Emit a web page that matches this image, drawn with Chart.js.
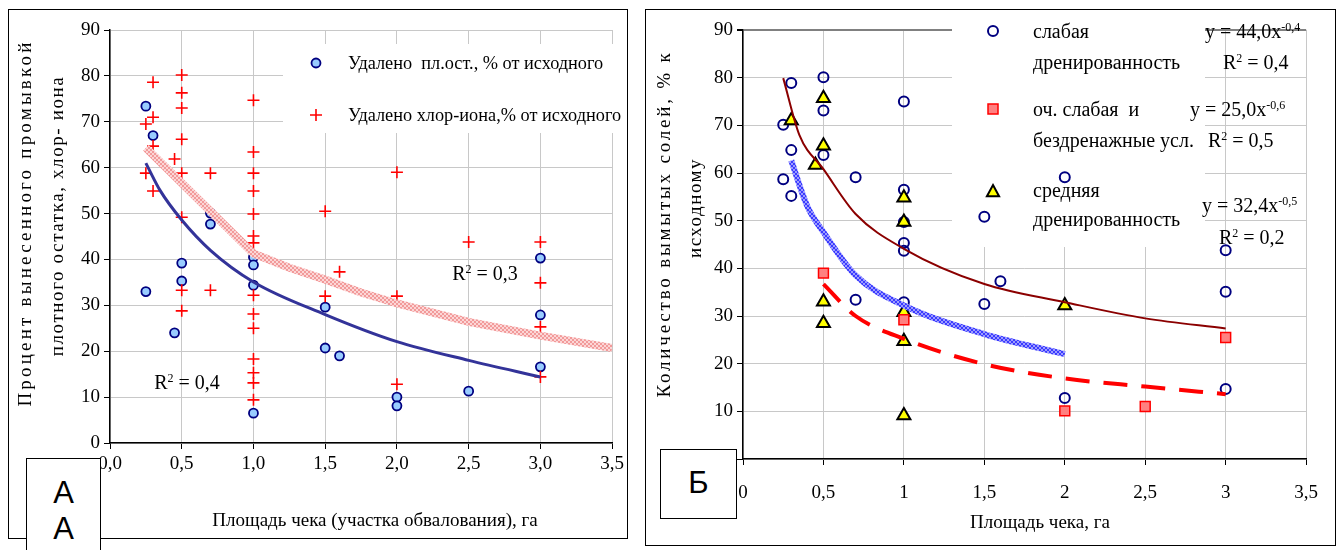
<!DOCTYPE html>
<html>
<head>
<meta charset="utf-8">
<script src="https://cdn.jsdelivr.net/npm/chart.js@4.4.1/dist/chart.umd.min.js"></script>
<style>
body { margin: 0; background: #fff; }
#page { position: relative; width: 1341px; height: 550px; overflow: hidden; font-family: "Liberation Serif", serif; }
.frame { position: absolute; border: 1.5px solid #000; box-sizing: border-box; }
canvas { position: absolute; }
.t { position: absolute; white-space: pre; color: #000; line-height: 1; transform: translateY(-50%); }
.c { transform: translate(-50%, -50%); }
.rot { transform: translate(-50%, -50%) rotate(-90deg); }
.box { position: absolute; background: #fff; border: 1.5px solid #000; box-sizing: border-box;
  font-family: "Liberation Sans", sans-serif; font-size: 31px; text-align: center; }
sup { font-size: 0.6em; vertical-align: 0; position: relative; top: -0.55em; }
</style>
</head>
<body>
<div id="page">
  <div class="frame" style="left:8px;top:9px;width:620px;height:530px"></div>
  <div class="frame" style="left:645px;top:9px;width:691px;height:537px"></div>

  <canvas id="chartA" width="620" height="530" style="left:8px;top:9px"></canvas>
  <canvas id="chartB" width="690" height="536" style="left:645px;top:9px"></canvas>

  <!-- panel A texts -->
  <div class="t rot" style="left:24px;top:223px;font-size:19px;letter-spacing:3.2px">Процент вынесенного промывкой</div>
  <div class="t rot" style="left:56px;top:216px;font-size:19px;letter-spacing:1.6px">плотного остатка, хлор- иона</div>
  <div class="t c" style="left:375px;top:519px;font-size:19px">Площадь чека (участка обвалования), га</div>
  <div class="t" style="left:348px;top:63px;font-size:18.3px">Удалено  пл.ост., % от исходного</div>
  <div class="t" style="left:348px;top:115px;font-size:18.3px">Удалено хлор-иона,% от исходного</div>
  <div class="t c" style="left:187px;top:382px;font-size:20px">R<sup>2</sup> = 0,4</div>
  <div class="t c" style="left:485px;top:273px;font-size:20px">R<sup>2</sup> = 0,3</div>

  <!-- panel B texts -->
  <div class="t rot" style="left:663px;top:224px;font-size:19px;letter-spacing:2.8px">Количество вымытых солей, % к</div>
  <div class="t rot" style="left:694px;top:208px;font-size:19px;letter-spacing:1.5px">исходному</div>
  <div class="t c" style="left:1040px;top:521px;font-size:19px">Площадь чека, га</div>
  <div class="t" style="left:1033px;top:31px;font-size:20px">слабая</div>
  <div class="t" style="left:1033px;top:62px;font-size:20px">дренированность</div>
  <div class="t" style="left:1205px;top:31px;font-size:20px">y = 44,0x<sup>-0,4</sup></div>
  <div class="t" style="left:1223px;top:62px;font-size:20px">R<sup>2</sup> = 0,4</div>
  <div class="t" style="left:1033px;top:109px;font-size:20px">оч. слабая  и</div>
  <div class="t" style="left:1033px;top:140px;font-size:20px">бездренажные усл.</div>
  <div class="t" style="left:1190px;top:109px;font-size:20px">y = 25,0x<sup>-0,6</sup></div>
  <div class="t" style="left:1208px;top:140px;font-size:20px">R<sup>2</sup> = 0,5</div>
  <div class="t" style="left:1033px;top:190px;font-size:20px">средняя</div>
  <div class="t" style="left:1033px;top:219px;font-size:20px">дренированность</div>
  <div class="t" style="left:1202px;top:205px;font-size:20px">y = 32,4x<sup>-0,5</sup></div>
  <div class="t" style="left:1219px;top:237px;font-size:20px">R<sup>2</sup> = 0,2</div>

  <div class="box" style="left:26px;top:458px;width:75px;height:100px;line-height:36px;padding-top:16px">А<br>А</div>
  <div class="box" style="left:660px;top:449px;width:77px;height:70px;line-height:66px">Б</div>
</div>

<script>
// Panel A: plot residue (circles) and chloride (crosses)
const plotX = [0.25, 0.3, 0.25, 0.45, 0.5, 0.5, 0.7, 0.7, 1.0, 1.0, 1.0, 1.0, 1.5, 1.5, 1.6, 2.0, 2.0, 2.5, 3.0, 3.0, 3.0];
const plotY = [73.4, 67, 33, 24, 39.2, 35.3, 50.1, 47.7, 40.5, 38.8, 34.4, 6.5, 29.6, 20.7, 19.0, 10.0, 8.1, 11.3, 40.3, 27.9, 16.6];

const chlorX = [0.3, 0.3, 0.25, 0.3, 0.25, 0.3, 0.45,
	0.5, 0.5, 0.5, 0.5, 0.5, 0.5, 0.5, 0.5,
	0.7, 0.7,
	1, 1, 1, 1, 1, 1, 1, 1, 1, 1, 1, 1, 1, 1,
	1.5, 1.5, 1.6, 2, 2, 2, 2.5, 3, 3, 3, 3];
const chlorY = [78.6, 71.0, 69.5, 64.7, 58.8, 54.9, 61.9,
	80.2, 76.3, 73.0, 66.2, 58.8, 49.2, 33.3, 28.8,
	58.8, 33.3,
	74.7, 63.4, 58.8, 54.9, 49.9, 45.1, 43.6, 32.2, 28.1, 25.0, 18.3, 15.3, 13.1, 9.4,
	50.5, 32.0, 37.3, 59.0, 32.0, 12.8, 43.8, 43.8, 34.9, 25.3, 14.4];

// trend lines
const trendPlotX = [0.25, 0.35, 0.5, 0.7, 1.0, 1.5, 2.0, 2.5, 3.0];
const trendPlotY = [61, 55, 48.6, 42, 35.1, 28, 22.1, 18, 14.4];
const trendChlorX = [0.25, 1.0, 1.25, 1.5, 1.75, 2.0, 2.5, 3.0, 3.5];
const trendChlorY = [64.3, 41.3, 38.2, 35.6, 32.8, 30.4, 26.4, 23.4, 20.7];

// Panel B: drainage groups
const weakX = [0.3, 0.5, 0.5, 0.25, 0.3, 0.5, 0.25, 0.7, 0.3, 1, 1, 1, 1, 1, 1, 0.7, 1.6, 1.5, 2, 2, 3, 3, 3, 1.5];
const weakY = [78.9, 80.1, 73.1, 70.1, 64.8, 63.8, 58.7, 59.1, 55.2, 75.0, 56.5, 49.7, 45.3, 43.7, 32.9, 33.4, 37.3, 32.5, 12.8, 59.1, 43.8, 35.1, 14.7, 50.8];
const veryWeakX = [0.5, 1, 2, 2.5, 3];
const veryWeakY = [39.0, 29.2, 10.1, 11.0, 25.5];
const mediumX = [0.3, 0.5, 0.5, 0.45, 0.5, 0.5, 1, 1, 1, 1, 1, 2];
const mediumY = [71.0, 75.7, 65.7, 61.7, 33.0, 28.5, 54.8, 49.7, 30.8, 24.7, 9.1, 32.2];

const trendWeakX = [0.25, 0.35, 0.5, 0.7, 1.0, 1.5, 2.0, 2.5, 3.0];
const trendWeakY = [79.9, 68, 60.8, 51.4, 44.1, 36.7, 32.9, 29.5, 27.4];
const trendMediumX = [0.3, 0.4, 0.5, 0.7, 1.0, 1.5, 2.0];
const trendMediumY = [62.6, 53, 47.6, 38.5, 32.2, 26.2, 22.0];
const trendVeryWeakX = [0.5, 0.7, 1.0, 1.5, 2.0, 2.5, 3.0];
const trendVeryWeakY = [36.7, 30, 25.2, 19.9, 16.9, 15.2, 13.6];

const yTicksLabels = [0, 10, 20, 30, 40, 50, 60, 70, 80, 90];

function toPoints(xs, ys) {
	return xs.map((x, i) => ({ x: x, y: ys[i] }));
}

// checkered texture like the thick trend lines of the original
function checkPattern(c1, c2) {
	const p = document.createElement("canvas");
	p.width = 4;
	p.height = 4;
	const g = p.getContext("2d");
	g.fillStyle = c1;
	g.fillRect(0, 0, 4, 4);
	g.fillStyle = c2;
	g.fillRect(0, 0, 2, 2);
	g.fillRect(2, 2, 2, 2);
	return g.createPattern(p, "repeat");
}

function drawMark(ctx, m) {
	ctx.save();
	ctx.lineWidth = m.lw;
	ctx.strokeStyle = m.stroke;
	ctx.beginPath();
	if (m.shape === "circle") {
		ctx.arc(m.x, m.y, m.r, 0, Math.PI * 2);
	} else if (m.shape === "cross") {
		ctx.moveTo(m.x - m.r, m.y);
		ctx.lineTo(m.x + m.r, m.y);
		ctx.moveTo(m.x, m.y - m.r);
		ctx.lineTo(m.x, m.y + m.r);
	} else if (m.shape === "rect") {
		ctx.rect(m.x - m.r, m.y - m.r, m.r * 2, m.r * 2);
	} else if (m.shape === "triangle") {
		ctx.moveTo(m.x, m.y - m.r);
		ctx.lineTo(m.x + m.r * 0.87, m.y + m.r * 0.6);
		ctx.lineTo(m.x - m.r * 0.87, m.y + m.r * 0.6);
		ctx.closePath();
	}
	if (m.face) {
		ctx.fillStyle = m.face;
		ctx.fill();
	}
	ctx.stroke();
	ctx.restore();
}

// white legend area under the points, over the grid
function makeLegendPanel(rect, marks) {
	return {
		id: "legendPanel",
		beforeDatasetsDraw(chart) {
			const ctx = chart.ctx;
			ctx.save();
			ctx.fillStyle = "#fff";
			ctx.fillRect(rect[0], rect[1], rect[2], rect[3]);
			ctx.restore();
			marks.forEach((m) => drawMark(ctx, m));
		},
	};
}

const tickFont = { family: "Liberation Serif", size: 19 };

function yScale(width) {
	return {
		type: "linear",
		min: 0,
		max: 90,
		afterBuildTicks: (s) => { s.ticks = yTicksLabels.map((v) => ({ value: v })); },
		ticks: { font: tickFont, color: "#000", padding: 4 },
		grid: { color: "#c8c8c8", tickColor: "#000", tickLength: 6 },
		border: { color: "#000", width: 1.5 },
		afterFit: (s) => { s.width = width; },
	};
}

function initChartA() {
	const ctx = document.getElementById("chartA");
	return new Chart(ctx, {
		type: "scatter",
		data: {
			datasets: [
				{
					data: toPoints(trendPlotX, trendPlotY),
					showLine: true,
					borderColor: "#333399",
					borderWidth: 3,
					pointRadius: 0,
					cubicInterpolationMode: "monotone",
					order: 0,
				},
				{
					data: toPoints(trendChlorX, trendChlorY),
					showLine: true,
					borderColor: checkPattern("#f29a9a", "#fcd6d6"),
					borderWidth: 8,
					pointRadius: 0,
					tension: 0,
					order: 1,
				},
				{
					label: "Удалено пл.ост., % от исходного",
					data: toPoints(plotX, plotY),
					pointStyle: "circle",
					pointRadius: 4.5,
					backgroundColor: "#99ccff",
					borderColor: "#000080",
					borderWidth: 1.8,
					order: 3,
				},
				{
					label: "Удалено хлор-иона,% от исходного",
					data: toPoints(chlorX, chlorY),
					pointStyle: "cross",
					pointRadius: 6,
					borderColor: "#ff0000",
					borderWidth: 1.6,
					order: 2,
				},
			],
		},
		options: {
			responsive: false,
			animation: false,
			devicePixelRatio: 1,
			layout: { padding: { top: 21, right: 15, left: 0, bottom: 0 } },
			plugins: {
				legend: { display: false },
				tooltip: { enabled: false },
			},
			scales: {
				x: {
					type: "linear",
					min: 0,
					max: 3.5,
					ticks: {
						stepSize: 0.5,
						font: tickFont,
						color: "#000",
						padding: 4,
						maxRotation: 0,
						callback: (v) => v.toFixed(1).replace(".", ","),
					},
					grid: { color: "#c8c8c8", tickColor: "#000", tickLength: 6 },
					border: { color: "#000", width: 1.5 },
					afterFit: (s) => { s.height = 96; },
				},
				y: yScale(102),
			},
		},
		plugins: [
			makeLegendPanel([275, 35, 330, 89], [
				{ shape: "circle", x: 308, y: 54, r: 4.5, lw: 1.8, face: "#99ccff", stroke: "#000080" },
				{ shape: "cross", x: 308, y: 106, r: 6, lw: 1.6, stroke: "#ff0000" },
			]),
		],
	});
}

function initChartB() {
	const ctx = document.getElementById("chartB");
	return new Chart(ctx, {
		type: "scatter",
		data: {
			datasets: [
				{
					data: toPoints(trendWeakX, trendWeakY),
					showLine: true,
					borderColor: "#8b0000",
					borderWidth: 2,
					pointRadius: 0,
					cubicInterpolationMode: "monotone",
					order: 0,
				},
				{
					data: toPoints(trendMediumX, trendMediumY),
					showLine: true,
					borderColor: checkPattern("#3b3bff", "#9c9cff"),
					borderWidth: 6,
					pointRadius: 0,
					cubicInterpolationMode: "monotone",
					order: 1,
				},
				{
					data: toPoints(trendVeryWeakX, trendVeryWeakY),
					showLine: true,
					borderColor: "#ff0000",
					borderWidth: 4,
					borderDash: [24, 14],
					pointRadius: 0,
					cubicInterpolationMode: "monotone",
					order: 1,
				},
				{
					label: "слабая дренированность",
					data: toPoints(weakX, weakY),
					pointStyle: "circle",
					pointRadius: 5,
					backgroundColor: "rgba(0,0,0,0)",
					borderColor: "#000080",
					borderWidth: 2,
					order: 4,
				},
				{
					label: "оч. слабая и бездренажные усл.",
					data: toPoints(veryWeakX, veryWeakY),
					pointStyle: "rect",
					pointRadius: 7,
					backgroundColor: "#ff8080",
					borderColor: "#ff0000",
					borderWidth: 1.5,
					order: 2,
				},
				{
					label: "средняя дренированность",
					data: toPoints(mediumX, mediumY),
					pointStyle: "triangle",
					pointRadius: 7.5,
					backgroundColor: "#ffff00",
					borderColor: "#000",
					borderWidth: 2,
					order: 3,
				},
			],
		},
		options: {
			responsive: false,
			animation: false,
			devicePixelRatio: 1,
			layout: { padding: { top: 21, right: 28, left: 0, bottom: 0 } },
			plugins: {
				legend: { display: false },
				tooltip: { enabled: false },
			},
			scales: {
				x: {
					type: "linear",
					min: 0,
					max: 3.5,
					ticks: {
						stepSize: 0.5,
						font: tickFont,
						color: "#000",
						padding: 17,
						maxRotation: 0,
						callback: (v) => String(v).replace(".", ","),
					},
					grid: { color: "#c8c8c8", tickColor: "#000", tickLength: 6 },
					border: { color: "#000", width: 1.5 },
					afterFit: (s) => { s.height = 86; },
				},
				y: Object.assign(yScale(98), {
					grid: {
						color: (c) => (c.tick && c.tick.value === 90 ? "#808080" : "#c8c8c8"),
						lineWidth: (c) => (c.tick && c.tick.value === 90 ? 2 : 1),
						tickColor: "#000",
						tickLength: 6,
					},
				}),
			},
		},
		plugins: [
			makeLegendPanel([307, 3, 253, 235], [
				{ shape: "circle", x: 348, y: 22, r: 5, lw: 2, stroke: "#000080" },
				{ shape: "rect", x: 348, y: 100, r: 5, lw: 1.5, face: "#ff8080", stroke: "#ff0000" },
				{ shape: "triangle", x: 348, y: 183, r: 7, lw: 2, face: "#ffff00", stroke: "#000" },
			]),
		],
	});
}

initChartA();
initChartB();
</script>
</body>
</html>
